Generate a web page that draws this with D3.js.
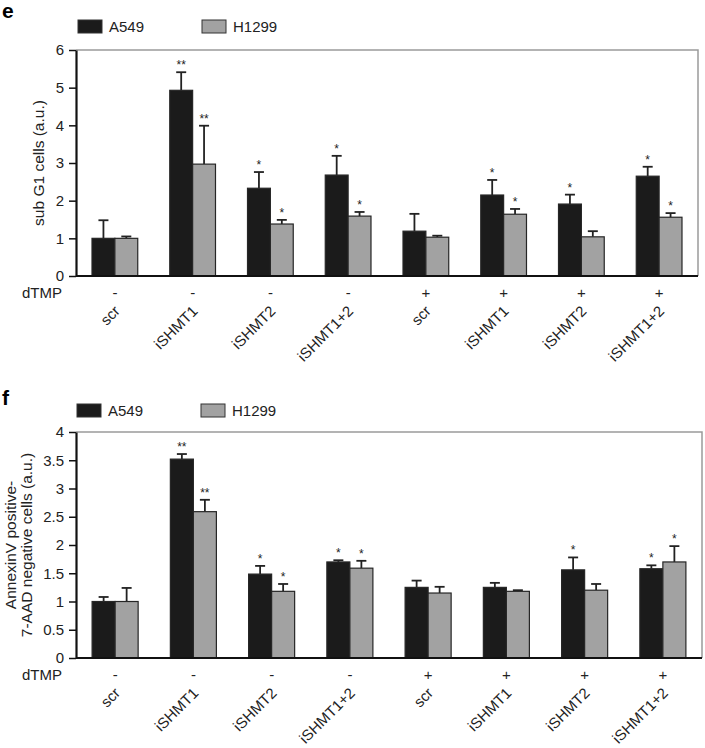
<!DOCTYPE html>
<html>
<head>
<meta charset="utf-8">
<script src="https://cdn.jsdelivr.net/npm/d3@7"></script>
<style>
  body { margin: 0; background: #fff; }
  svg { font-family: "Liberation Sans", Arial, sans-serif; }
  .tick text { font-size: 15px; fill: #222; }
</style>
</head>
<body>
<div id="chart-area"></div>
<script>
// Categories / treatment
var categories = ["scr", "iSHMT1", "iSHMT2", "iSHMT1+2", "scr", "iSHMT1", "iSHMT2", "iSHMT1+2"];
var dtmp = ["-", "-", "-", "-", "+", "+", "+", "+"];
var seriesNames = ["A549", "H1299"];

// Panel e: sub G1 cells (a.u.)
var subG1A549 = [1.0, 4.93, 2.33, 2.68, 1.19, 2.15, 1.91, 2.65];
var subG1A549Err = [0.48, 0.48, 0.43, 0.51, 0.46, 0.40, 0.25, 0.25];
var subG1A549Sig = ["", "**", "*", "*", "", "*", "*", "*"];
var subG1H1299 = [1.0, 2.97, 1.38, 1.59, 1.03, 1.64, 1.04, 1.56];
var subG1H1299Err = [0.05, 1.02, 0.11, 0.11, 0.04, 0.14, 0.15, 0.11];
var subG1H1299Sig = ["", "**", "*", "*", "", "*", "", "*"];

// Panel f: AnnexinV positive- 7-AAD negative cells (a.u.)
var annexA549 = [1.0, 3.52, 1.485, 1.70, 1.25, 1.25, 1.56, 1.58];
var annexA549Err = [0.08, 0.09, 0.145, 0.03, 0.12, 0.08, 0.22, 0.06];
var annexA549Sig = ["", "**", "*", "*", "", "", "*", "*"];
var annexH1299 = [1.0, 2.59, 1.18, 1.59, 1.15, 1.18, 1.20, 1.70];
var annexH1299Err = [0.24, 0.21, 0.13, 0.13, 0.11, 0.02, 0.11, 0.28];
var annexH1299Sig = ["", "**", "*", "*", "", "", "", "*"];

var yTicksE = [0, 1, 2, 3, 4, 5, 6];
var yTicksF = [0, 0.5, 1, 1.5, 2, 2.5, 3, 3.5, 4];

var colors = { "A549": "#1b1b1b", "H1299": "#a2a2a2" };

var svg = d3.select("#chart-area").append("svg")
    .attr("width", 705)
    .attr("height", 748);

function buildRows(a, aErr, aSig, h, hErr, hSig) {
    return categories.map(function(c, i) {
        return {
            idx: i, cat: c, dtmp: dtmp[i],
            bars: [
                { key: "A549", v: a[i], e: aErr[i], sig: aSig[i] },
                { key: "H1299", v: h[i], e: hErr[i], sig: hSig[i] }
            ]
        };
    });
}

function drawPanel(opt) {
    var g = svg.append("g");

    var x = d3.scaleBand()
        .domain(d3.range(categories.length))
        .range([opt.left, opt.right])
        .padding(0);
    var xs = d3.scaleBand()
        .domain(seriesNames)
        .range([0, x.bandwidth()])
        .paddingInner(0)
        .paddingOuter(0.7);
    var y = d3.scaleLinear()
        .domain([0, d3.max(opt.ticks)])
        .range([opt.bottom, opt.top]);

    // panel letter
    g.append("text")
        .attr("x", 2).attr("y", opt.letterY)
        .style("font-size", "21px").style("font-weight", "bold")
        .text(opt.letter);

    // legend
    var leg = g.selectAll(".legend").data(seriesNames).enter().append("g")
        .attr("transform", function(d, i) { return "translate(" + (opt.legendX + i * 124) + "," + opt.legendY + ")"; });
    leg.append("rect")
        .attr("width", 24).attr("height", 13)
        .attr("fill", function(d) { return colors[d]; })
        .attr("stroke", "#333").attr("stroke-width", 1);
    leg.append("text")
        .attr("x", 31).attr("y", 12)
        .style("font-size", "15px").attr("fill", "#222")
        .text(function(d) { return d; });

    // frame (top + right) in gray
    g.append("path")
        .attr("d", "M" + opt.left + "," + opt.top + "H" + opt.right + "V" + opt.bottom)
        .attr("fill", "none").attr("stroke", "#9a9a9a").attr("stroke-width", 1.5);

    var rows = g.selectAll(".grp").data(opt.rows).enter().append("g")
        .attr("transform", function(d) { return "translate(" + x(d.idx) + ",0)"; });

    var bars = rows.selectAll(".b").data(function(d) { return d.bars; }).enter().append("g");

    // error bars (upper only)
    bars.append("line")
        .attr("x1", function(d) { return xs(d.key) + xs.bandwidth() / 2; })
        .attr("x2", function(d) { return xs(d.key) + xs.bandwidth() / 2; })
        .attr("y1", function(d) { return y(d.v); })
        .attr("y2", function(d) { return y(d.v + d.e); })
        .attr("stroke", "#222").attr("stroke-width", 1.8);
    bars.append("line")
        .attr("x1", function(d) { return xs(d.key) + xs.bandwidth() / 2 - 5; })
        .attr("x2", function(d) { return xs(d.key) + xs.bandwidth() / 2 + 5; })
        .attr("y1", function(d) { return y(d.v + d.e); })
        .attr("y2", function(d) { return y(d.v + d.e); })
        .attr("stroke", "#222").attr("stroke-width", 1.8);

    bars.append("rect")
        .attr("x", function(d) { return xs(d.key); })
        .attr("y", function(d) { return y(d.v); })
        .attr("width", xs.bandwidth())
        .attr("height", function(d) { return y(0) - y(d.v); })
        .attr("fill", function(d) { return colors[d.key]; })
        .attr("stroke", "#262626").attr("stroke-width", 1.2);

    // significance stars
    bars.append("text")
        .attr("x", function(d) { return xs(d.key) + xs.bandwidth() / 2; })
        .attr("y", function(d) { return y(d.v + d.e) - 3; })
        .attr("text-anchor", "middle")
        .style("font-size", "12px").attr("fill", "#222")
        .text(function(d) { return d.sig; });

    // y axis
    var yAxis = d3.axisLeft(y)
        .tickValues(opt.ticks)
        .tickSize(7)
        .tickPadding(5)
        .tickSizeOuter(0)
        .tickFormat(d3.format("~g"));
    var ya = g.append("g")
        .attr("transform", "translate(" + opt.left + ",0)")
        .call(yAxis);
    ya.select(".domain").attr("stroke", "#111").attr("stroke-width", 2.2);
    ya.selectAll(".tick line").attr("stroke", "#111").attr("stroke-width", 1.5);

    // baseline
    g.append("line")
        .attr("x1", opt.left).attr("x2", opt.right)
        .attr("y1", y(0)).attr("y2", y(0))
        .attr("stroke", "#111").attr("stroke-width", 2.2);

    // dTMP row
    g.append("text")
        .attr("x", 62).attr("y", y(0) + 22)
        .attr("text-anchor", "end")
        .style("font-size", "15px").attr("fill", "#222")
        .text("dTMP");
    rows.append("text")
        .attr("x", x.bandwidth() / 2).attr("y", y(0) + 22)
        .attr("text-anchor", "middle")
        .style("font-size", "15px").attr("fill", "#222")
        .text(function(d) { return d.dtmp; });

    // category labels
    rows.append("text")
        .attr("transform", "translate(" + (x.bandwidth() / 2 + 6) + "," + (y(0) + 36) + ") rotate(-45)")
        .attr("text-anchor", "end")
        .style("font-size", "15px").attr("fill", "#222")
        .text(function(d) { return d.cat; });

    // y title
    var yc = (opt.top + opt.bottom) / 2;
    opt.title.forEach(function(t, i) {
        g.append("text")
            .attr("transform", "translate(" + opt.titleX[i] + "," + yc + ") rotate(-90)")
            .attr("text-anchor", "middle")
            .style("font-size", "15.5px").attr("fill", "#222")
            .text(t);
    });
}

drawPanel({
    letter: "e", letterY: 18,
    legendX: 78, legendY: 20,
    left: 76, right: 698, top: 50, bottom: 276,
    ticks: yTicksE,
    rows: buildRows(subG1A549, subG1A549Err, subG1A549Sig, subG1H1299, subG1H1299Err, subG1H1299Sig),
    title: ["sub G1 cells (a.u.)"], titleX: [44]
});

drawPanel({
    letter: "f", letterY: 405,
    legendX: 77, legendY: 404,
    left: 76, right: 702, top: 432, bottom: 658,
    ticks: yTicksF,
    rows: buildRows(annexA549, annexA549Err, annexA549Sig, annexH1299, annexH1299Err, annexH1299Sig),
    title: ["AnnexinV positive-", "7-AAD negative cells (a.u.)"], titleX: [16, 32]
});
</script>
</body>
</html>
